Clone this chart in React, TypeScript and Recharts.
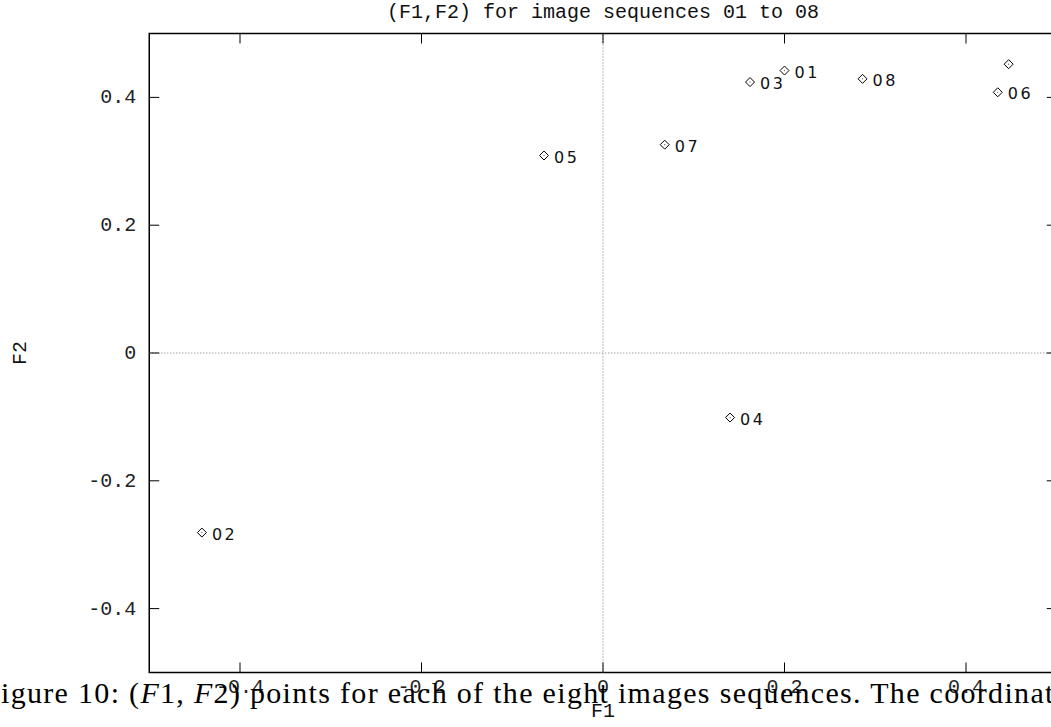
import { ReferenceArea, ReferenceLine, Scatter, ScatterChart, XAxis, YAxis } from 'recharts';

// (F1, F2) coordinates of each image sequence
const sequenceLabels = ['01', '02', '03', '04', '05', '06', '07', '08'];
const f1Values = [0.2, -0.442, 0.162, 0.14, -0.065, 0.435, 0.068, 0.286];
const f2Values = [0.442, -0.281, 0.424, -0.101, 0.309, 0.408, 0.326, 0.429];

// one extra point plotted without a label
const unlabeledF1 = [0.447];
const unlabeledF2 = [0.452];

const xTicks = [-0.4, -0.2, 0, 0.2, 0.4];
const yTicks = [-0.4, -0.2, 0, 0.2, 0.4];

const points = sequenceLabels.map((label, i) => ({ f1: f1Values[i], f2: f2Values[i], label }));
const extraPoints = unlabeledF1.map((f1, i) => ({ f1, f2: unlabeledF2[i], label: '' }));

const CHART_W = 1100;
const CHART_H = 727;
const PLOT = { left: 149.25, top: 33.5, right: 1056.75, bottom: 672.5 };
const AXIS_W = 30;
const AXIS_H = 30;
const TICK_LEN = 10;
const mono = '"Liberation Mono", "DejaVu Sans Mono", monospace';

const fmt = (v: number) => (v === 0 ? '0' : String(v));

// ticks point inward on both the bottom and the mirrored top border
const XTick = ({ x, payload }: any) => (
  <g>
    <line x1={x} x2={x} y1={PLOT.bottom} y2={PLOT.bottom - TICK_LEN} stroke="#000" />
    <line x1={x} x2={x} y1={PLOT.top} y2={PLOT.top + TICK_LEN} stroke="#000" />
    <text x={x} y={PLOT.bottom + 20} textAnchor="middle" fontFamily={mono} fontSize={20} fill="#222">
      {fmt(payload.value)}
    </text>
  </g>
);

const YTick = ({ y, payload }: any) => (
  <g>
    <line x1={PLOT.left} x2={PLOT.left + TICK_LEN} y1={y} y2={y} stroke="#000" />
    <line x1={PLOT.right} x2={PLOT.right - TICK_LEN} y1={y} y2={y} stroke="#000" />
    <text x={PLOT.left - 13} y={y + 6} textAnchor="end" fontFamily={mono} fontSize={20} fill="#222">
      {fmt(payload.value)}
    </text>
  </g>
);

// gnuplot-style hollow diamond with the sequence number to its right
const Diamond = ({ cx, cy, payload }: any) => {
  const r = 4.5;
  return (
    <g>
      <path d={`M${cx},${cy - r}L${cx + r},${cy}L${cx},${cy + r}L${cx - r},${cy}Z`} fill="none" stroke="#000" strokeWidth={1} />
      <circle cx={cx} cy={cy} r={0.6} fill="#555" />
      {payload.label && (
        <text x={cx + 10} y={cy + 7} fontFamily='"DejaVu Sans", sans-serif' fontSize={16} letterSpacing={2.5} fill="#111">
          {payload.label}
        </text>
      )}
    </g>
  );
};

export default function App() {
  return (
    <div style={{ position: 'absolute', left: 0, top: 0, width: 1051, height: 727, overflow: 'hidden', background: '#fff' }}>
      <ScatterChart
        width={CHART_W}
        height={CHART_H}
        margin={{
          top: PLOT.top,
          left: PLOT.left - AXIS_W,
          right: CHART_W - PLOT.right,
          bottom: CHART_H - PLOT.bottom - AXIS_H,
        }}
      >
        <XAxis type="number" dataKey="f1" domain={[-0.5, 0.5]} ticks={xTicks} height={AXIS_H} axisLine={false} tickLine={false} tick={<XTick />} interval={0} />
        <YAxis type="number" dataKey="f2" domain={[-0.5, 0.5]} ticks={yTicks} width={AXIS_W} axisLine={false} tickLine={false} tick={<YTick />} interval={0} />
        <ReferenceLine x={0} stroke="#777" strokeDasharray="1 2" />
        <ReferenceLine y={0} stroke="#777" strokeDasharray="1 2" />
        <ReferenceArea x1={-0.5} x2={0.5} y1={-0.5} y2={0.5} fill="none" fillOpacity={0} stroke="#000" strokeWidth={1.5} />
        <Scatter data={points} shape={<Diamond />} isAnimationActive={false} />
        <Scatter data={extraPoints} shape={<Diamond />} isAnimationActive={false} />
      </ScatterChart>
      <svg width={1051} height={727} style={{ position: 'absolute', left: 0, top: 0, pointerEvents: 'none' }}>
        <text x={603} y={18} textAnchor="middle" fontFamily={mono} fontSize={20} fill="#111">
          (F1,F2) for image sequences 01 to 08
        </text>
        <text x={603} y={717} textAnchor="middle" fontFamily={mono} fontSize={20} fill="#111">
          F1
        </text>
        <text x={0} y={0} transform="translate(26 353) rotate(-90)" textAnchor="middle" fontFamily={mono} fontSize={20} fill="#111">
          F2
        </text>
        <text x={-17} y={703} textLength={1098} lengthAdjust="spacing" fontFamily='"Liberation Serif", serif' fontSize={30} fill="#000">
          Figure 10: (<tspan fontStyle="italic">F</tspan>1, <tspan fontStyle="italic">F</tspan>2) points for each of the eight images sequences. The coordinates
        </text>
      </svg>
    </div>
  );
}
